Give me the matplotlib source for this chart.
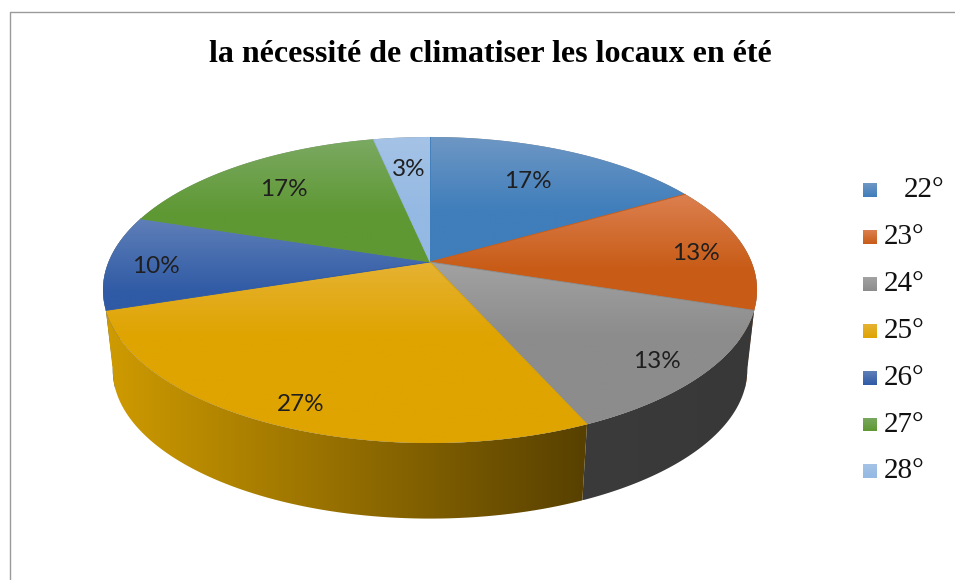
import numpy as np
import matplotlib
matplotlib.use('Agg')
import matplotlib.pyplot as plt
from matplotlib.colors import to_rgb
from matplotlib.patches import Polygon

title = 'la nécessité de climatiser les locaux en été'
categories = ['22°', '23°', '24°', '25°', '26°', '27°', '28°']
# counts behind the rounded percentages on the chart
counts = [5, 4, 4, 8, 3, 5, 1]

# slice colours, lighter at the top of each slice
top_light = ['#6E97C4', '#DC8050', '#A2A2A2', '#E6B233', '#5F7FB8', '#7BA962', '#A5C3E6']
top_base = ['#3F7EBB', '#C85C17', '#8C8C8C', '#DFA400', '#2F5AA5', '#5E9833', '#94B9E3']
# side wall colours, left to right (None = hidden slice)
wall_left = [None, '#B3520F', '#3B3B3B', '#CF9B00', '#27477F', None, None]
wall_right = [None, '#A84C0D', '#383838', '#574000', '#27477F', None, None]
# how far the lower wall edge runs past the slice, degrees (start, end)
wall_extra = [(0, 0), (0, 0), (-7.5, 0), (0, 7.5), (0, 0), (0, 0), (0, 0)]

# label distance from the centre (fraction of radius) and small turn in degrees
label_r = [0.71, 0.84, 0.86, 0.88, 0.85, 0.75, 0.73]
label_turn = [-1.5, 1, 1, -1, -1, 0, 0]

# projected pie geometry, in pixels
CX, CY = 430, 262
A, B, K = 321.5, 147.9, 0.183
DEPTH, SHRINK = 81, 0.97


def project(theta, r=1.0, low=False):
    # theta in degrees clockwise from the top of the pie
    t = np.radians(theta)
    x = r * np.sin(t)
    y = r * np.cos(t)
    w = 1 + K * y
    s = SHRINK if low else 1.0
    cy = CY + DEPTH if low else CY
    return np.column_stack([CX + s * A * x / w, cy - s * B * y / w])


def fill_gradient(ax, verts, c1, c2, horizontal=False, y_span=None, zorder=2):
    # paints a clipped linear gradient inside the polygon
    x0, y0 = verts.min(axis=0)
    x1, y1 = verts.max(axis=0)
    ramp = np.linspace(0, 1, 256)
    if y_span is not None:
        ramp = np.clip(ramp * (y1 - y0) / y_span, 0, 1)
    ramp = ramp[:, None]
    img = (1 - ramp) * np.array(to_rgb(c1)) + ramp * np.array(to_rgb(c2))
    img = img[None, :, :] if horizontal else img[:, None, :]
    im = ax.imshow(img, extent=[x0, x1, y1, y0], aspect='auto',
                   interpolation='bilinear', zorder=zorder)
    patch = Polygon(verts, closed=True, facecolor='none', edgecolor='none', zorder=zorder)
    ax.add_patch(patch)
    im.set_clip_path(patch)


fig = plt.figure(figsize=(9.55, 5.8), dpi=100)
ax = fig.add_axes([0, 0, 1, 1])
ax.axis('off')

shares = np.array(counts) / sum(counts)
edges = np.concatenate([[0], np.cumsum(shares)]) * 360

# side walls first, the tops cover whatever is hidden
for i in range(len(counts)):
    if wall_left[i] is None:
        continue
    th = np.linspace(edges[i], edges[i + 1], 80)
    th_low = np.linspace(edges[i] + wall_extra[i][0], edges[i + 1] + wall_extra[i][1], 80)
    verts = np.vstack([project(th), project(th_low[::-1], low=True)])
    # the walls with a longer lower edge go over their neighbours
    z = 2.1 if wall_extra[i] != (0, 0) else 2
    fill_gradient(ax, verts, wall_left[i], wall_right[i], horizontal=True, zorder=z)

# flat base under the tops so no seams show between slices
ax.add_patch(Polygon(project(np.linspace(0, 360, 360)), closed=True,
                     facecolor='#8C8C8C', edgecolor='none', zorder=3))

for i in range(len(counts)):
    th = np.linspace(edges[i], edges[i + 1], 120)
    verts = np.vstack([[CX, CY], project(th)])
    fill_gradient(ax, verts, top_light[i], top_base[i], y_span=75, zorder=4)
    ax.plot(verts[:, 0][[0, 1]], verts[:, 1][[0, 1]], color=top_base[i], lw=0.6, zorder=4.5)

for i, share in enumerate(shares):
    mid = (edges[i] + edges[i + 1]) / 2 + label_turn[i]
    pos = project(mid, label_r[i])[0]
    ax.text(pos[0], pos[1] + 2, '%.0f%%' % (share * 100), ha='center', va='center', fontsize=17.5,
            family='Lato', color='#1f1f1f', zorder=6)

ax.text(490, 55, title, ha='center', va='center', fontsize=23, fontweight='bold',
        family='Liberation Serif', color='black')

# legend
for i, name in enumerate(categories):
    y = 190 + i * 46.9
    square = np.array([[863, y - 7], [877, y - 7], [877, y + 7], [863, y + 7]])
    fill_gradient(ax, square, top_light[i], top_base[i], zorder=4)
    text_x = 904 if i == 0 else 884
    ax.text(text_x, y, name, ha='left', va='center', fontsize=21,
            family='Liberation Serif', color='#111111')

# chart frame, cut off by the right and bottom of the picture
ax.plot([9.5, 9.5, 955], [580, 11.5, 11.5], color='#9a9a9a', lw=1.0, zorder=7)

ax.set_xlim(0, 955)
ax.set_ylim(580, 0)
fig.savefig('out.png', dpi=100, facecolor='white')
